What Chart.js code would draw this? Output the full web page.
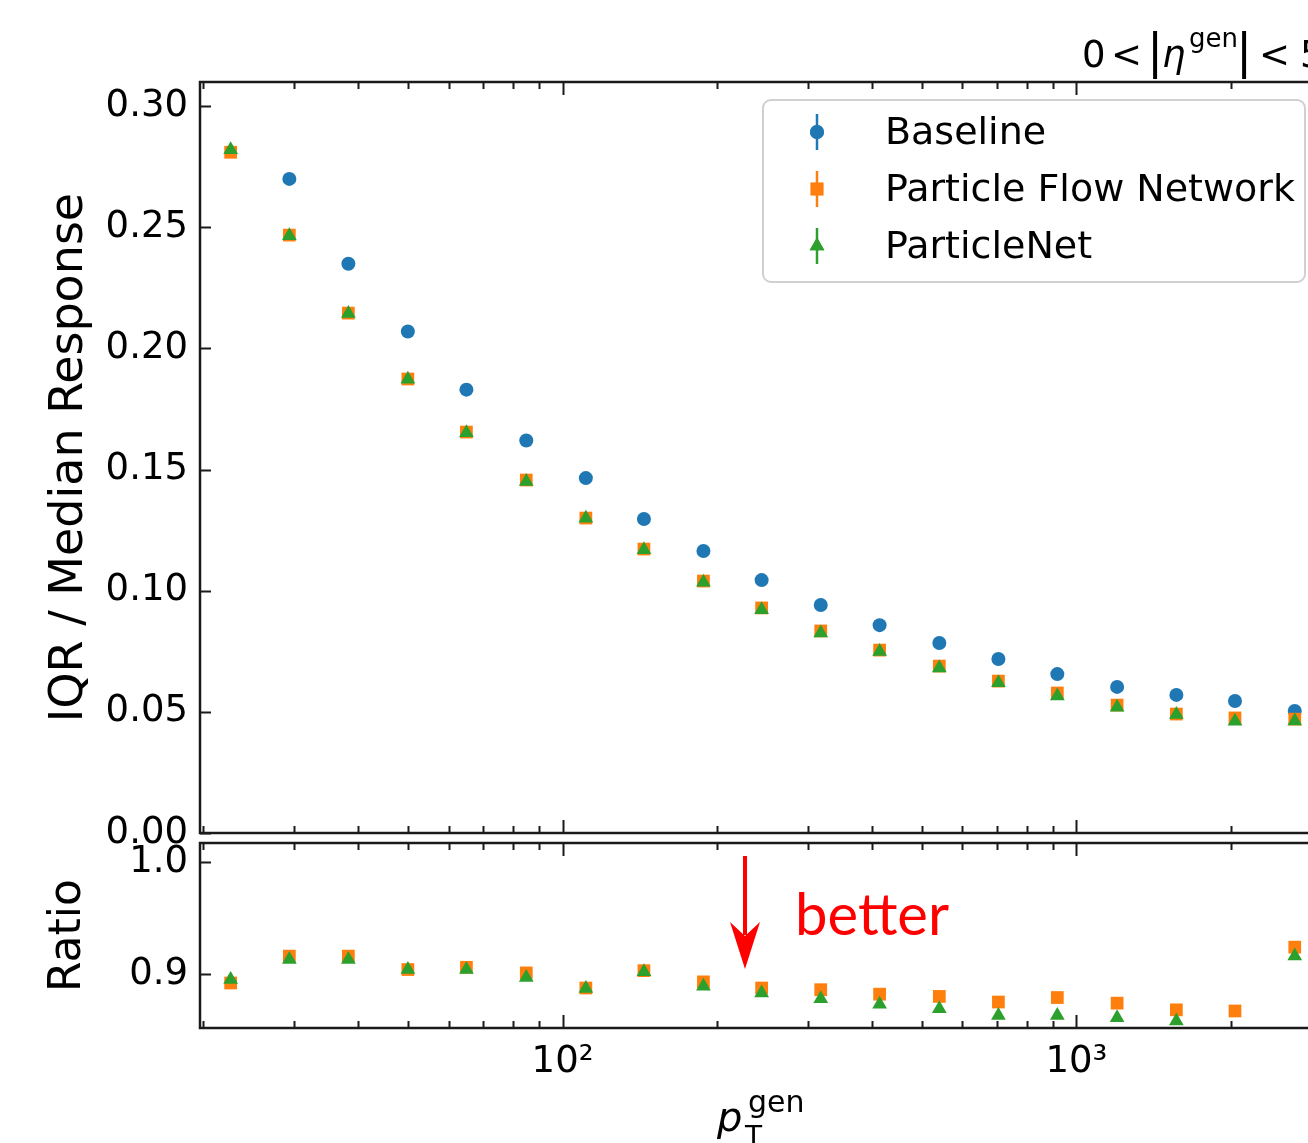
<!DOCTYPE html>
<html>
<head>
<meta charset="utf-8">
<script src="https://cdn.jsdelivr.net/npm/chart.js@4.4.0/dist/chart.umd.min.js"></script>
<style>
  html, body { margin: 0; padding: 0; background: #fff; overflow: hidden; }
  #wrap { position: relative; width: 1308px; height: 1143px; overflow: hidden; background: #fff; }
  canvas { position: absolute; left: 0; top: 0; }
</style>
</head>
<body>
<div id="wrap">
  <canvas id="main" width="1345" height="1143"></canvas>
  <canvas id="ratio" width="1345" height="1143"></canvas>
</div>
<script>
// pT bin centres (GeV)
const ptBins = [22.6, 29.4, 38.3, 50, 65, 85, 111, 144, 188, 244, 318, 414, 541, 705, 918, 1200, 1565, 2035, 2660];

// IQR / median response
const baseline = [0.315, 0.270, 0.235, 0.207, 0.183, 0.162, 0.1465, 0.1296, 0.1164, 0.1044, 0.0941, 0.0858, 0.0784, 0.0718, 0.0656, 0.0603, 0.0570, 0.0545, 0.0504];
const pfn      = [0.281, 0.2468, 0.2146, 0.1874, 0.1655, 0.1457, 0.1300, 0.1172, 0.1040, 0.0929, 0.0834, 0.0755, 0.0689, 0.0627, 0.0578, 0.0528, 0.0491, 0.0475, 0.0470];
const pnet     = [0.282, 0.2465, 0.2144, 0.1873, 0.1652, 0.1451, 0.1299, 0.1169, 0.1035, 0.0922, 0.0826, 0.0749, 0.0681, 0.0620, 0.0566, 0.0519, 0.0489, 0.0461, 0.0462];

// ratio to baseline
const ratioPfn  = [0.892, 0.916, 0.916, 0.904, 0.906, 0.901, 0.8875, 0.903, 0.893, 0.8875, 0.886, 0.882, 0.880, 0.875, 0.879, 0.874, 0.868, 0.867, 0.924];
const ratioPnet = [0.895, 0.913, 0.913, 0.904, 0.904, 0.897, 0.887, 0.902, 0.889, 0.883, 0.878, 0.873, 0.869, 0.863, 0.863, 0.861, 0.858, 0.845, 0.916];

// axis ticks
const xMajor = [100, 1000];
const xMinor = [20, 30, 40, 50, 60, 70, 80, 90, 200, 300, 400, 500, 600, 700, 800, 900, 2000, 3000];
const yTicksMain = [0, 0.05, 0.10, 0.15, 0.20, 0.25, 0.30];
const yTicksRatio = [0.9, 1.0];

const labels = ['Baseline', 'Particle Flow Network', 'ParticleNet'];
const colors = ['#1f77b4', '#ff7f0e', '#2ca02c'];
const styles = ['circle', 'rect', 'triangle'];
const radii = [7, 9, 8.5];

const FONT = 'DejaVu Sans';
const X_MIN = 19.7, X_MAX = 3200;

function pts(ys) {
  return ptBins.map(function(x, i) { return {x: x, y: ys[i]}; });
}

function ds(i, ys, order) {
  return {
    label: labels[i],
    data: pts(ys),
    backgroundColor: colors[i],
    borderColor: colors[i],
    pointStyle: styles[i],
    pointRadius: radii[i],
    pointBorderWidth: 0,
    showLine: false,
    clip: 0,
    order: order
  };
}

// frame + inward ticks, matplotlib style
const framePlugin = {
  id: 'frame',
  afterDraw: function(chart, args, opts) {
    const ctx = chart.ctx, a = chart.chartArea, xs = chart.scales.x, ys = chart.scales.y;
    ctx.save();
    ctx.strokeStyle = '#1a1a1a';
    ctx.lineWidth = 2;
    ctx.beginPath();
    xMajor.concat(xMinor).forEach(function(v) {
      const px = Math.round(xs.getPixelForValue(v)) + 0.5;
      const len = xMajor.indexOf(v) >= 0 ? 13 : 7;
      ctx.moveTo(px, a.top); ctx.lineTo(px, a.top + len);
      ctx.moveTo(px, a.bottom); ctx.lineTo(px, a.bottom - len);
    });
    opts.yTicks.forEach(function(v) {
      const py = Math.round(ys.getPixelForValue(v)) + 0.5;
      ctx.moveTo(a.left, py); ctx.lineTo(a.left + 11, py);
      ctx.moveTo(a.right, py); ctx.lineTo(a.right - 11, py);
    });
    ctx.stroke();
    ctx.lineWidth = 2.5;
    ctx.strokeRect(a.left, a.top, a.right - a.left, a.bottom - a.top);
    ctx.restore();
  }
};

// legend box and eta label on the top panel
const mainExtras = {
  id: 'mainExtras',
  afterDraw: function(chart) {
    const ctx = chart.ctx;
    ctx.save();
    // legend
    const bx = 763, by = 100, bw = 542, bh = 182, r = 8;
    ctx.beginPath();
    ctx.moveTo(bx + r, by);
    ctx.arcTo(bx + bw, by, bx + bw, by + bh, r);
    ctx.arcTo(bx + bw, by + bh, bx, by + bh, r);
    ctx.arcTo(bx, by + bh, bx, by, r);
    ctx.arcTo(bx, by, bx + bw, by, r);
    ctx.closePath();
    ctx.fillStyle = 'rgba(255,255,255,0.8)';
    ctx.fill();
    ctx.strokeStyle = '#d0d0d0';
    ctx.lineWidth = 2;
    ctx.stroke();

    const rows = [132, 189, 246];
    ctx.font = '38px "' + FONT + '"';
    ctx.textBaseline = 'middle';
    ctx.textAlign = 'left';
    rows.forEach(function(y, i) {
      ctx.strokeStyle = colors[i];
      ctx.lineWidth = 2.5;
      ctx.beginPath();
      ctx.moveTo(817, y - 18); ctx.lineTo(817, y + 18);
      ctx.stroke();
      ctx.fillStyle = colors[i];
      Chart.helpers.drawPoint(ctx, {pointStyle: styles[i], radius: radii[i], borderWidth: 0}, 817, y);
      ctx.fill();
      ctx.fillStyle = '#000';
      ctx.fillText(labels[i], 885, y + 2);
    });

    // eta range label
    ctx.textBaseline = 'alphabetic';
    const base = 67;
    const big = '37px "' + FONT + '"';
    ctx.font = big;
    ctx.fillText('0', 1082, base);
    ctx.fillText('<', 1111, base);
    ctx.font = '48px "' + FONT + '"';
    ctx.fillText('|', 1147, base + 1);
    ctx.font = 'italic 37px "' + FONT + '"';
    ctx.fillText('\u03b7', 1162, base);
    ctx.font = '26px "' + FONT + '"';
    ctx.fillText('gen', 1189, base - 20);
    ctx.font = '48px "' + FONT + '"';
    ctx.fillText('|', 1236, base + 1);
    ctx.font = big;
    ctx.fillText('<', 1259, base);
    ctx.fillText('5', 1300, base);
    ctx.restore();
  }
};

// arrow, "better" and x title on the ratio panel
const ratioExtras = {
  id: 'ratioExtras',
  afterDraw: function(chart) {
    const ctx = chart.ctx;
    ctx.save();
    ctx.strokeStyle = '#f00';
    ctx.fillStyle = '#f00';
    ctx.lineWidth = 4;
    ctx.beginPath();
    ctx.moveTo(745, 856); ctx.lineTo(745, 935);
    ctx.stroke();
    ctx.beginPath();
    ctx.moveTo(730, 922);
    ctx.lineTo(745, 936);
    ctx.lineTo(760, 922);
    ctx.lineTo(745, 969);
    ctx.closePath();
    ctx.fill();
    ctx.font = '58px Lato';
    ctx.textBaseline = 'alphabetic';
    ctx.fillText('better', 795, 935);

    // x title p_T^gen
    ctx.fillStyle = '#000';
    ctx.font = 'italic 40px "' + FONT + '"';
    ctx.fillText('p', 717, 1131);
    ctx.font = '30px "' + FONT + '"';
    ctx.fillText('gen', 748, 1112);
    ctx.font = '28px "' + FONT + '"';
    ctx.fillText('T', 745, 1146);
    ctx.restore();
  }
};

const tickFont = {family: FONT, size: 37};

function xScale(showLabels) {
  return {
    type: 'logarithmic',
    min: X_MIN,
    max: X_MAX,
    grid: {display: false, drawTicks: false},
    border: {display: false},
    afterBuildTicks: function(s) {
      s.ticks = xMajor.concat(xMinor).sort(function(a, b) { return a - b; }).map(function(v) { return {value: v}; });
    },
    afterFit: function(s) { s.height = showLabels ? 115 : 0; },
    ticks: {
      display: showLabels,
      autoSkip: false,
      maxRotation: 0,
      padding: 12,
      color: '#000',
      font: tickFont,
      callback: function(v) {
        if (v === 100) return '10\u00b2';
        if (v === 1000) return '10\u00b3';
        return '';
      }
    }
  };
}

function yScale(min, max, ticks, digits, title, titleSize) {
  return {
    min: min,
    max: max,
    grid: {display: false, drawTicks: false},
    border: {display: false},
    afterBuildTicks: function(s) {
      s.ticks = ticks.map(function(v) { return {value: v}; });
    },
    afterFit: function(s) { s.width = 200; },
    ticks: {
      padding: 12,
      color: '#000',
      font: tickFont,
      callback: function(v) { return Number(v).toFixed(digits); }
    },
    title: {
      display: true,
      text: title,
      color: '#000',
      font: {family: FONT, size: titleSize},
      padding: {top: 42, bottom: 0}
    }
  };
}

Chart.defaults.font.family = FONT;

new Chart(document.getElementById('main'), {
  type: 'scatter',
  data: {
    datasets: [ds(0, baseline, 2), ds(1, pfn, 1), ds(2, pnet, 0)]
  },
  options: {
    responsive: false,
    animation: false,
    events: [],
    layout: {padding: {top: 82, bottom: 1143 - 833, left: 0, right: 7}},
    scales: {
      x: xScale(false),
      y: yScale(0, 0.31, yTicksMain, 2, 'IQR / Median Response', 46)
    },
    plugins: {
      legend: {display: false},
      tooltip: {enabled: false},
      frame: {yTicks: yTicksMain}
    }
  },
  plugins: [framePlugin, mainExtras]
});

new Chart(document.getElementById('ratio'), {
  type: 'scatter',
  data: {
    datasets: [ds(1, ratioPfn, 1), ds(2, ratioPnet, 0)]
  },
  options: {
    responsive: false,
    animation: false,
    events: [],
    layout: {padding: {top: 843, bottom: 0, left: 0, right: 7}},
    scales: {
      x: xScale(true),
      y: yScale(0.8518, 1.017, yTicksRatio, 1, 'Ratio', 44)
    },
    plugins: {
      legend: {display: false},
      tooltip: {enabled: false},
      frame: {yTicks: yTicksRatio}
    }
  },
  plugins: [framePlugin, ratioExtras]
});
</script>
</body>
</html>
